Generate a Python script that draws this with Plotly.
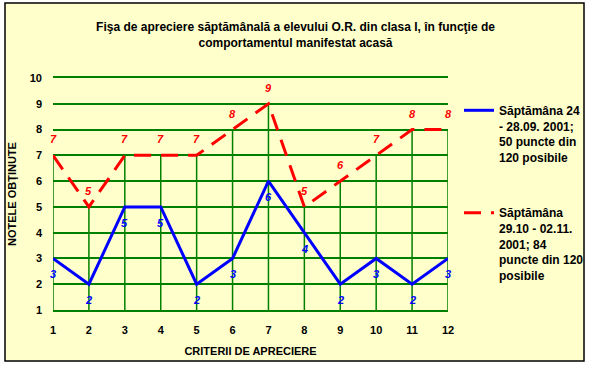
import plotly.graph_objects as go

criteria = [1, 2, 3, 4, 5, 6, 7, 8, 9, 10, 11, 12]
week24 = [3, 2, 5, 5, 2, 3, 6, 4, 2, 3, 2, 3]
week29 = [7, 5, 7, 7, 7, 8, 9, 5, 6, 7, 8, 8]
name24 = "Săptămâna 24<br>- 28.09. 2001;<br>50 puncte din<br>120 posibile"
name29 = "Săptămâna<br>29.10 - 02.11.<br>2001; 84<br>puncte din 120<br>posibile"
title_text = "Fişa de apreciere săptămânală a elevului O.R. din clasa I, în funcţie de<br>comportamentul manifestat acasă"
x_title = "CRITERII DE APRECIERE"
y_title = "NOTELE OBŢINUTE"
y_ticks = [1, 2, 3, 4, 5, 6, 7, 8, 9, 10]

FONT = "Liberation Sans, Arial, sans-serif"
GREEN = "#008000"
BLUE = "#0000FF"
RED = "#FF0000"

fig = go.Figure()

# drop lines from axis to the highest point of each category
dx, dy = [], []
for c, a, b in zip(criteria, week24, week29):
    dx += [c, c, None]
    dy += [1, max(a, b), None]
fig.add_trace(go.Scatter(x=dx, y=dy, mode="lines", line=dict(color=GREEN, width=1.5),
                         showlegend=False, hoverinfo="skip"))

fig.add_trace(go.Scatter(x=criteria, y=week24, mode="lines", name=name24,
                         line=dict(color=BLUE, width=3), legendgroup="a"))
fig.add_trace(go.Scatter(x=criteria, y=week29, mode="lines", name=name29,
                         line=dict(color=RED, width=3, dash="17px,10px"), legendgroup="b"))

for c, v in zip(criteria, week24):
    fig.add_annotation(x=c, y=v, text=str(v), showarrow=False, yshift=-16,
                       font=dict(family=FONT, size=11, color=BLUE, style="italic", weight="bold"))
for c, v in zip(criteria, week29):
    fig.add_annotation(x=c, y=v, text=str(v), showarrow=False, yshift=16,
                       font=dict(family=FONT, size=11, color=RED, style="italic", weight="bold"))

# outer frame
fig.add_shape(type="rect", xref="paper", yref="paper",
              x0=(5 - 53) / 395, x1=(584 - 53) / 395,
              y0=(310 - 361) / 232, y1=(310 - 3) / 232,
              fillcolor="#FFFFCC", line=dict(color="black", width=1.5), layer="below")

fig.update_layout(
    width=591, height=366,
    margin=dict(l=53, r=143, t=78, b=56, autoexpand=False),
    paper_bgcolor="white", plot_bgcolor="rgba(0,0,0,0)",
    font=dict(family=FONT, size=11, color="black"),
    title=dict(text=title_text, x=0.5, xref="container", xanchor="center",
               y=1 - 31 / 366, yref="container", yanchor="top", pad=dict(t=0, b=0),
               font=dict(family=FONT, size=12, color="black", weight="bold")),
    legend=dict(x=459 / 591, xref="container", xanchor="left",
                y=1 - 96 / 366, yref="container", yanchor="top", maxheight=400,
                bgcolor="rgba(0,0,0,0)", tracegroupgap=37, valign="top",
                font=dict(family=FONT, size=12, color="black", weight="bold")),
    showlegend=True,
)
fig.update_xaxes(range=[1, 12], tickvals=criteria, showgrid=False, zeroline=False,
                 showline=True, mirror=True, linecolor=GREEN, linewidth=1.5,
                 ticklabelstandoff=9,
                 tickfont=dict(family=FONT, size=11, color="black", weight="bold"),
                 title=dict(text=x_title, standoff=12,
                            font=dict(family=FONT, size=11, color="black", weight="bold")))
fig.update_yaxes(range=[1, 10], tickvals=y_ticks, showgrid=True, gridcolor=GREEN, gridwidth=1.5,
                 zeroline=False, ticklabelstandoff=10,
                 tickfont=dict(family=FONT, size=11, color="black", weight="bold"),
                 title=dict(text=y_title, standoff=10,
                            font=dict(family=FONT, size=11, color="black", weight="bold")))

fig.write_html("out.html")
